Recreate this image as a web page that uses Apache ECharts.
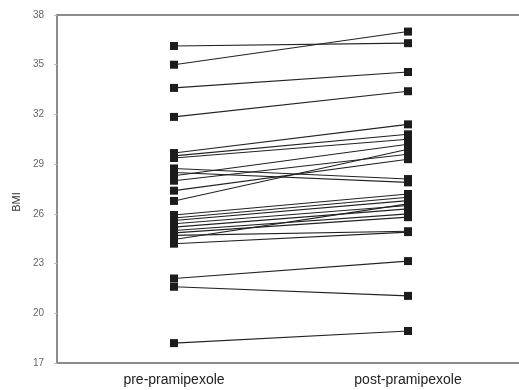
<!DOCTYPE html>
<html>
<head>
<meta charset="utf-8">
<script src="https://cdn.jsdelivr.net/npm/echarts@6/dist/echarts.min.js"></script>
<style>html,body{margin:0;padding:0;background:#fff;overflow:hidden;}#c{width:525px;height:390px;}</style>
</head>
<body>
<div id="c"></div>
<script>
var categories = ['pre-pramipexole', 'post-pramipexole'];
var yTicks = [17, 20, 23, 26, 29, 32, 35, 38];
var preValues  = [36.13, 35.0, 33.6, 31.85, 29.67, 29.5, 29.37, 28.74, 28.5, 28.3, 28.0, 27.4, 26.78, 25.93, 25.75, 25.6, 25.4, 25.2, 25.0, 24.85, 24.7, 24.45, 24.2, 22.1, 21.6, 18.2];
var postValues = [36.3, 37.0, 34.56, 33.4, 31.4, 30.8, 30.5, 28.1, 27.9, 30.2, 29.6, 29.3, 29.9, 27.2, 27.0, 26.8, 26.5, 26.3, 26.0, 25.8, 24.95, 26.6, 24.9, 23.15, 21.05, 18.93];

var series = preValues.map(function (p, i) {
  return {
    type: 'line',
    data: [p, postValues[i]],
    symbol: 'rect',
    symbolSize: 8,
    itemStyle: { color: '#1c1c1c' },
    lineStyle: { color: '#222', width: 1.1 },
    emphasis: { disabled: true },
    silent: true,
    animation: false
  };
});

var chart = echarts.init(document.getElementById('c'));
chart.setOption({
  animation: false,
  grid: { left: 57, right: 0, top: 15, bottom: 27 },
  xAxis: [{
    type: 'category',
    data: categories,
    boundaryGap: true,
    axisLine: { lineStyle: { color: '#8c8c8c', width: 2 } },
    axisTick: { show: false },
    axisLabel: { color: '#222', fontSize: 14, margin: 10, fontFamily: 'Liberation Sans, Arial, sans-serif' }
  }, {
    type: 'category',
    data: categories,
    position: 'top',
    axisLine: { lineStyle: { color: '#8c8c8c', width: 2 } },
    axisTick: { show: false },
    axisLabel: { show: false }
  }],
  yAxis: {
    type: 'value',
    min: 17,
    max: 38,
    name: 'BMI',
    nameLocation: 'middle',
    nameRotate: 90,
    nameGap: 35,
    nameTextStyle: { color: '#333', fontSize: 11, padding: [0, 26, 0, 0], fontFamily: 'Liberation Sans, Arial, sans-serif' },
    axisLine: { show: true, lineStyle: { color: '#8c8c8c', width: 2 } },
    axisTick: { show: true, length: 3, customValues: yTicks, lineStyle: { color: '#bbb' } },
    axisLabel: { customValues: yTicks, color: '#666', fontSize: 10, margin: 13, fontFamily: 'Liberation Sans, Arial, sans-serif' },
    splitLine: { show: false }
  },
  series: series
});
</script>
</body>
</html>
